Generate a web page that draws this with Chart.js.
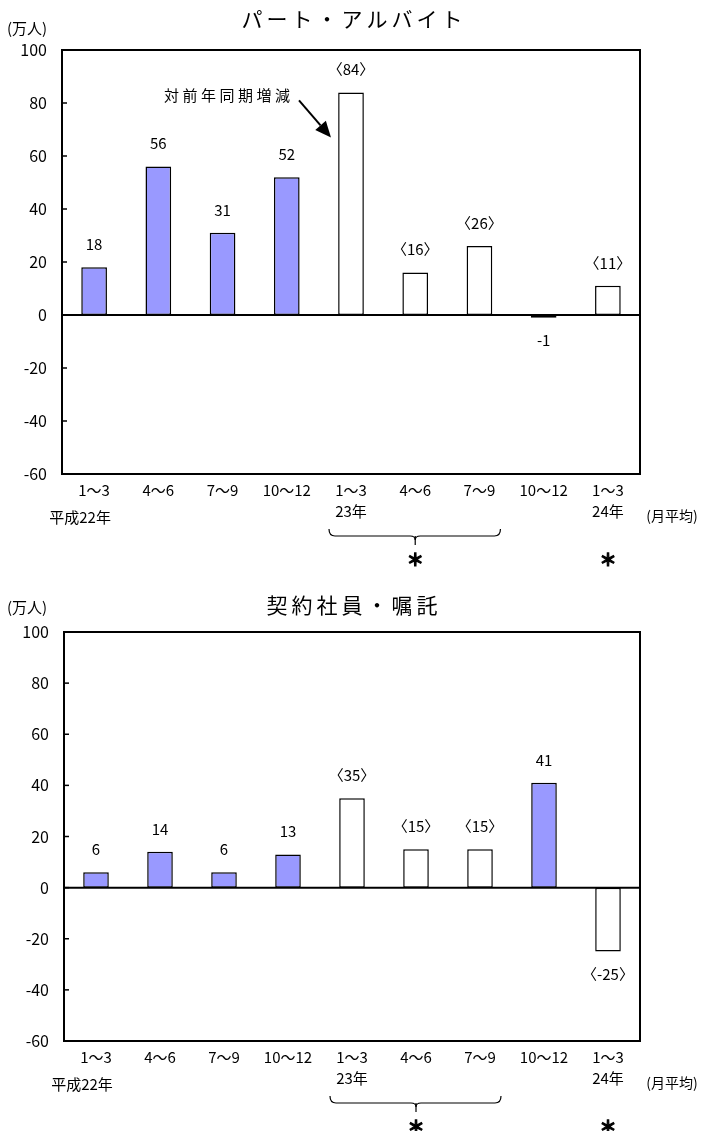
<!DOCTYPE html>
<html>
<head>
<meta charset="utf-8">
<script src="https://cdn.jsdelivr.net/npm/chart.js@4.4.1/dist/chart.umd.min.js"></script>
<style>
body { margin: 0; background: #fff; }
#wrap { position: relative; width: 702px; height: 1131px; }
canvas { position: absolute; left: 0; }
</style>
</head>
<body>
<div id="wrap">
  <canvas id="partChart" width="702" height="575" style="top:0"></canvas>
  <canvas id="contractChart" width="702" height="556" style="top:575px"></canvas>
</div>
<script>
// categories (quarters) and year marks under them
const quarters = ['1～3', '4～6', '7～9', '10～12', '1～3', '4～6', '7～9', '10～12', '1～3'];
const yearMarks = ['', '', '', '', '23年', '', '', '', '24年'];
const firstYear = '平成22年';
const monthNote = '(月平均)';
const unitLabel = '(万人)';

// パート・アルバイト
const partValues = [18, 56, 31, 52, 84, 16, 26, -1, 11];
const partYoY = [false, false, false, false, true, true, true, false, true];

// 契約社員・嘱託
const contractValues = [6, 14, 6, 13, 35, 15, 15, 41, -25];
const contractYoY = [false, false, false, false, true, true, true, false, true];

const yMin = -60, yMax = 100, yStep = 20;

const FONT = "'Noto Sans CJK JP', sans-serif";
Chart.defaults.font.family = FONT;
Chart.defaults.color = '#000';

function drawSpaced(ctx, text, cx, cy, spacing) {
    // centred text with extra spacing between characters
    ctx.letterSpacing = spacing + 'px';
    const w = ctx.measureText(text).width - spacing;
    ctx.textAlign = 'left';
    ctx.fillText(text, cx - w / 2, cy);
    ctx.letterSpacing = '0px';
}

const decorPlugin = {
    id: 'decor',
    afterDatasetsDraw(chart, args, opts) {
        const { ctx, chartArea: a, scales: { x, y } } = chart;
        ctx.save();
        ctx.strokeStyle = '#000';
        ctx.fillStyle = '#000';

        // plot frame
        ctx.lineWidth = 2;
        ctx.strokeRect(a.left, a.top, a.right - a.left, a.bottom - a.top);

        // tick marks inside the left axis
        ctx.lineWidth = 1.5;
        y.ticks.forEach(t => {
            const py = y.getPixelForValue(t.value);
            ctx.beginPath();
            ctx.moveTo(a.left, py);
            ctx.lineTo(a.left + 5, py);
            ctx.stroke();
        });

        // zero line
        const y0 = y.getPixelForValue(0);
        ctx.lineWidth = 2;
        ctx.beginPath();
        ctx.moveTo(a.left, y0);
        ctx.lineTo(a.right, y0);
        ctx.stroke();

        // value labels
        const values = chart.data.datasets[0].data;
        ctx.font = '15px ' + FONT;
        ctx.textAlign = 'center';
        ctx.textBaseline = 'middle';
        values.forEach((v, i) => {
            const txt = opts.yoy[i] ? '〈' + v + '〉' : String(v);
            const px = x.getPixelForValue(i);
            const py = v >= 0 ? y.getPixelForValue(v) - 23 : y.getPixelForValue(v) + 23;
            ctx.fillText(txt, px, py);
        });

        // title and unit
        ctx.font = '21px ' + FONT;
        drawSpaced(ctx, opts.title, 352, opts.titleY, 4);
        ctx.font = '15px ' + FONT;
        ctx.textAlign = 'left';
        ctx.fillText(unitLabel, 7, opts.unitY);

        // texts under the axis
        ctx.textAlign = 'center';
        ctx.font = '15px ' + FONT;
        ctx.fillText(firstYear, x.getPixelForValue(0) - 14, a.bottom + 43);
        ctx.font = '14px ' + FONT;
        ctx.fillText(monthNote, 672, a.bottom + 42);

        // bracket under 23年 1～3 .. 7～9
        const bl = x.getPixelForValue(4) - 22;
        const br = x.getPixelForValue(6) + 21;
        const bc = x.getPixelForValue(5);
        const by = a.bottom + 62;
        ctx.lineWidth = 1.2;
        ctx.beginPath();
        ctx.moveTo(bl, by - 7);
        ctx.quadraticCurveTo(bl, by, bl + 6, by);
        ctx.lineTo(bc - 5, by);
        ctx.quadraticCurveTo(bc, by, bc, by + 4);
        ctx.quadraticCurveTo(bc, by, bc + 5, by);
        ctx.lineTo(br - 6, by);
        ctx.quadraticCurveTo(br, by, br, by - 7);
        ctx.stroke();
        ctx.beginPath();
        ctx.moveTo(bc, by);
        ctx.lineTo(bc, by + 9);
        ctx.stroke();

        // asterisks
        ctx.font = 'bold 17px ' + FONT;
        ctx.lineWidth = 1.2;
        [bc, x.getPixelForValue(8)].forEach(px => {
            ctx.fillText('＊', px, a.bottom + 86);
            ctx.strokeText('＊', px, a.bottom + 86);
        });

        // annotation with arrow
        if (opts.note) {
            const bx = x.getPixelForValue(4);
            ctx.font = '15px ' + FONT;
            drawSpaced(ctx, opts.note, bx - 124, y.getPixelForValue(83), 3.5);
            const sx = bx - 52, sy = y.getPixelForValue(81);
            const tx = bx - 20, ty = y.getPixelForValue(67);
            const ang = Math.atan2(ty - sy, tx - sx);
            const hl = 16, hw = 7;
            const hx = tx - hl * Math.cos(ang), hy = ty - hl * Math.sin(ang);
            ctx.lineWidth = 2;
            ctx.beginPath();
            ctx.moveTo(sx, sy);
            ctx.lineTo(hx, hy);
            ctx.stroke();
            ctx.beginPath();
            ctx.moveTo(tx, ty);
            ctx.lineTo(hx + hw * Math.sin(ang), hy - hw * Math.cos(ang));
            ctx.lineTo(hx - hw * Math.sin(ang), hy + hw * Math.cos(ang));
            ctx.closePath();
            ctx.fill();
        }
        ctx.restore();
    }
};

function makeChart(id, values, yoy, cfg) {
    return new Chart(document.getElementById(id).getContext('2d'), {
        type: 'bar',
        data: {
            labels: quarters.map((q, i) => yearMarks[i] ? [q, yearMarks[i]] : q),
            datasets: [{
                data: values,
                backgroundColor: yoy.map(f => f ? '#ffffff' : '#9999ff'),
                borderColor: '#000',
                borderWidth: 1.5,
                borderSkipped: false,
                barPercentage: 0.4,
                categoryPercentage: 1.0
            }]
        },
        options: {
            responsive: false,
            animation: false,
            events: [],
            layout: { padding: { left: 0, right: 62, top: cfg.top, bottom: cfg.bottom } },
            plugins: {
                legend: { display: false },
                tooltip: { enabled: false },
                decor: { yoy: yoy, title: cfg.title, titleY: cfg.titleY, unitY: cfg.unitY, note: cfg.note }
            },
            scales: {
                x: {
                    grid: { display: false, drawTicks: false },
                    border: { display: false },
                    ticks: { font: { size: 15, lineHeight: 1.45 }, padding: 5, maxRotation: 0, autoSkip: false },
                    afterFit: s => { s.height = 60; }
                },
                y: {
                    min: yMin,
                    max: yMax,
                    grid: { display: false, drawTicks: false },
                    border: { display: false },
                    ticks: { stepSize: yStep, font: { size: 16 }, padding: 15 },
                    afterFit: s => { s.width = cfg.left; }
                }
            }
        },
        plugins: [decorPlugin]
    });
}

makeChart('partChart', partValues, partYoY, {
    top: 50, bottom: 41, left: 62, title: 'パート・アルバイト', titleY: 19, unitY: 28, note: '対前年同期増減'
});
makeChart('contractChart', contractValues, contractYoY, {
    top: 57, bottom: 30, left: 64, title: '契約社員・嘱託', titleY: 30, unitY: 32
});
</script>
</body>
</html>
